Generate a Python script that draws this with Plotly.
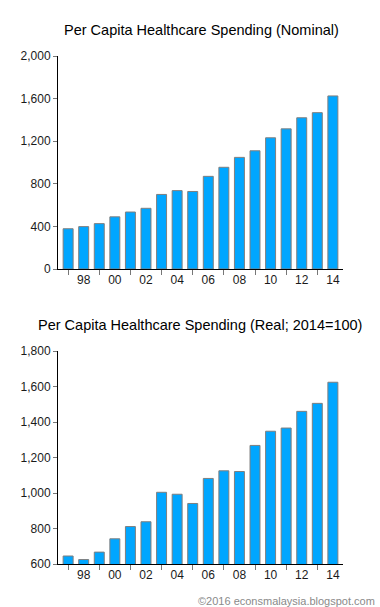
import plotly.graph_objects as go

years = list(range(1997, 2015))
nominal = [378, 398, 426, 490, 535, 570, 700, 736, 728, 870, 955, 1048, 1110, 1232, 1316, 1420, 1468, 1625]
real = [645, 625, 667, 742, 811, 838, 1004, 993, 941, 1082, 1125, 1121, 1268, 1348, 1366, 1460, 1505, 1624]
label_years = list(range(1998, 2015, 2))
label_text = [str(y)[-2:] for y in label_years]
tick_years = list(range(1997, 2014, 2))

title_top = "Per Capita Healthcare Spending (Nominal)"
title_bottom = "Per Capita Healthcare Spending (Real; 2014=100)"
credit = "©2016 econsmalaysia.blogspot.com"

W, H = 380, 607
def px(x):
    return x / W
def py(y):
    return 1 - y / H

bar_color = "#00A6FF"
line_color = "#7F7F7F"
font = "Liberation Sans, Arial, sans-serif"

fig = go.Figure()
fig.add_trace(go.Bar(x=years, y=nominal, marker=dict(color=bar_color, line=dict(color=line_color, width=1)),
                     xaxis="x", yaxis="y", hoverinfo="skip"))
fig.add_trace(go.Bar(x=years, y=real, marker=dict(color=bar_color, line=dict(color=line_color, width=1)),
                     xaxis="x2", yaxis="y2", hoverinfo="skip"))

xcommon = dict(range=[1996.35, 2014.65], tickvals=label_years, ticktext=label_text, ticks="",
               showline=True, linecolor="black", linewidth=1, showgrid=False, zeroline=False,
               automargin=False, tickfont=dict(size=12, color="#1a1a1a"),
               minor=dict(tickvals=tick_years, ticks="outside", ticklen=5, tickcolor="#777", showgrid=False))
ycommon = dict(showline=True, linecolor="black", linewidth=1, showgrid=False, zeroline=False,
               automargin=False, ticks="outside", ticklen=4, tickcolor="#777", tickformat=",",
               tickfont=dict(size=12, color="#1a1a1a"))

fig.update_layout(
    template="none",
    width=W, height=H, margin=dict(l=0, r=0, t=0, b=0, pad=0), autosize=False,
    paper_bgcolor="white", plot_bgcolor="white", showlegend=False,
    bargap=0.36, font=dict(family=font),
    xaxis=dict(domain=[px(58), px(343)], anchor="y", **xcommon),
    yaxis=dict(domain=[py(269), py(56)], anchor="x", range=[0, 2000], dtick=400, **ycommon),
    xaxis2=dict(domain=[px(58), px(343)], anchor="y2", **xcommon),
    yaxis2=dict(domain=[py(564), py(351)], anchor="x2", range=[600, 1800], dtick=200, **ycommon),
    annotations=[
        dict(text=title_top, x=px(201), y=py(30), xref="paper", yref="paper", showarrow=False,
             xanchor="center", yanchor="middle", font=dict(size=14.5, color="black")),
        dict(text=title_bottom, x=px(200), y=py(325), xref="paper", yref="paper", showarrow=False,
             xanchor="center", yanchor="middle", font=dict(size=14.5, color="black")),
        dict(text=credit, x=px(377), y=py(601), xref="paper", yref="paper", showarrow=False,
             xanchor="right", yanchor="middle", font=dict(size=11, color="#8A8A8A")),
    ],
)

fig.write_html("out.html", config={"displayModeBar": False, "staticPlot": True},
               post_script="document.documentElement.style.margin='0';document.body.style.margin='0';"
                           "document.body.style.overflow='hidden';")
